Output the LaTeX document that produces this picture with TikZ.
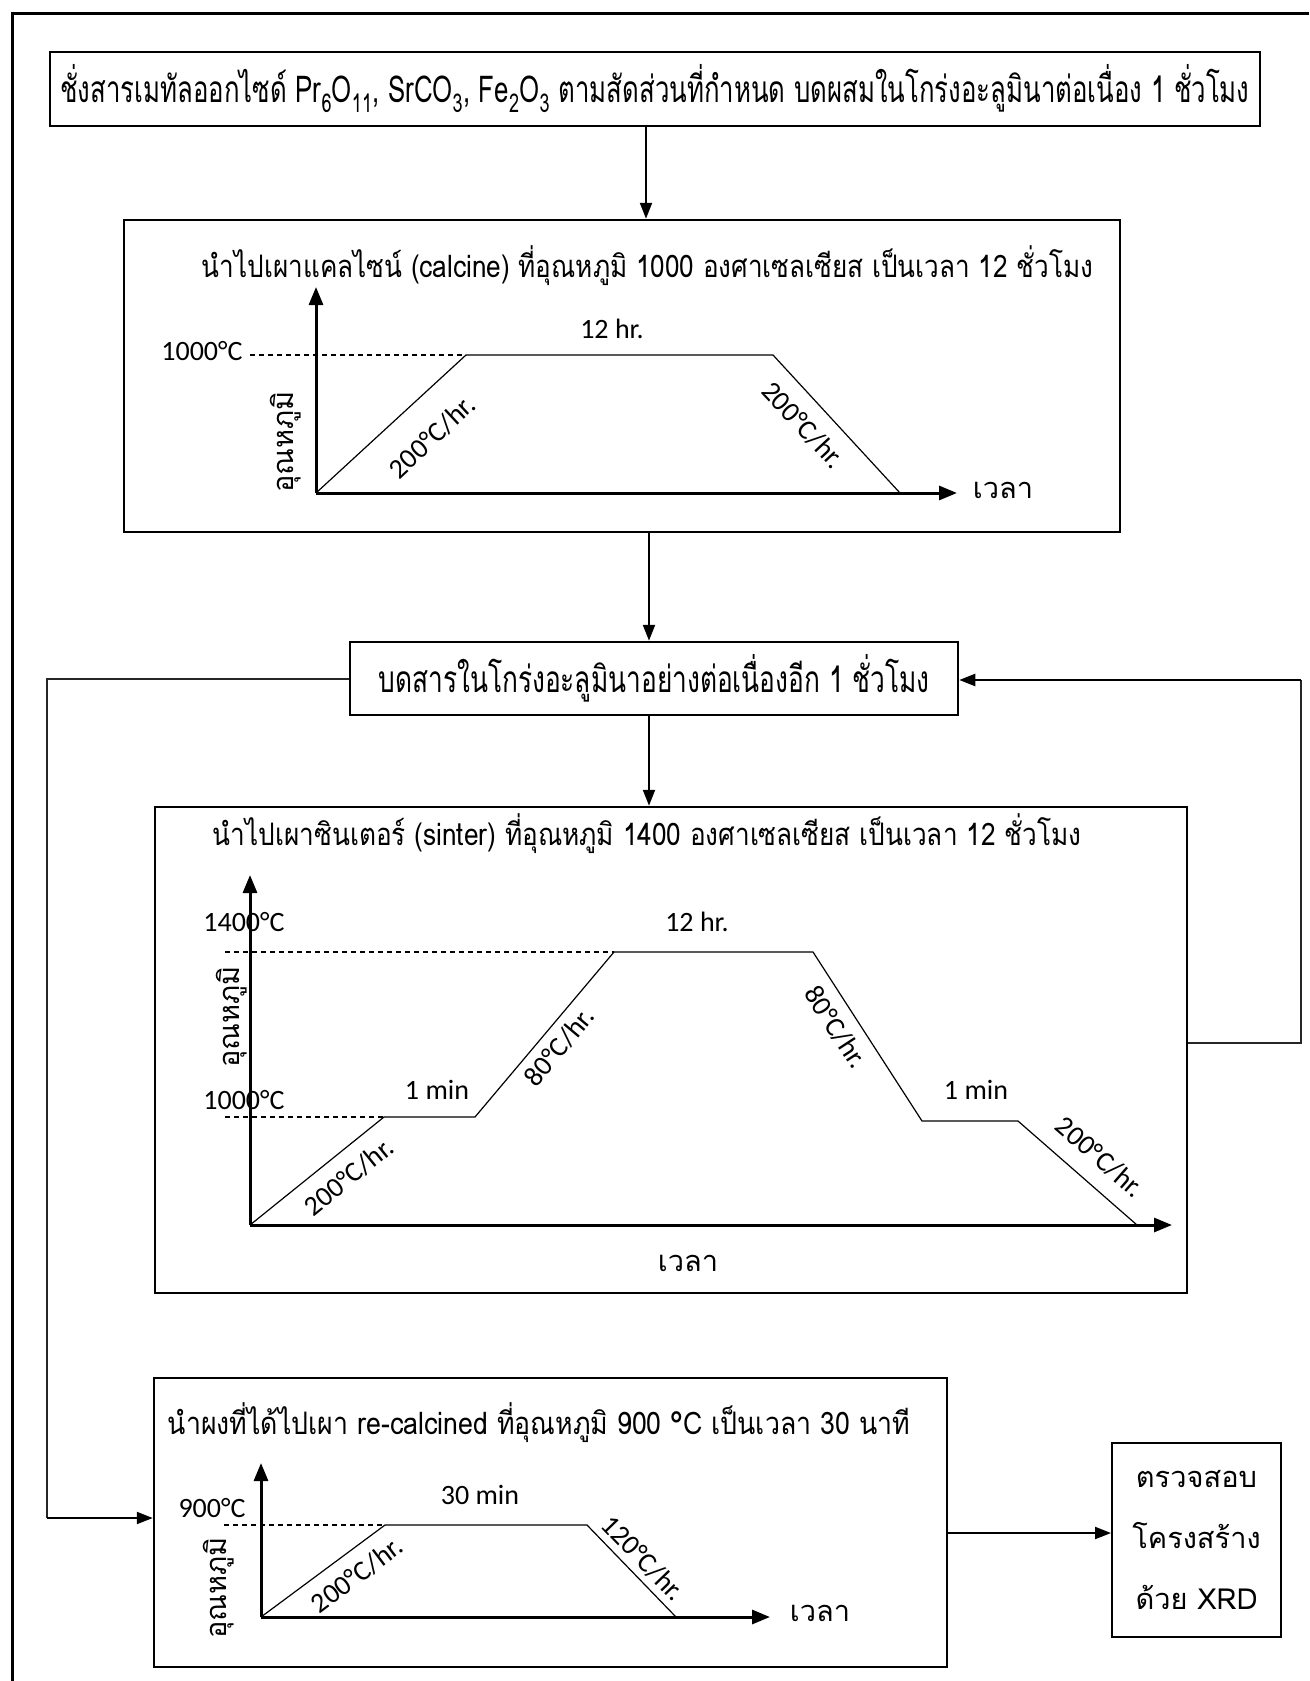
\documentclass[tikz,border=0pt]{standalone}
\usepackage{fontspec}
\usepackage{graphicx}
\newfontfamily\thai[Script=Thai]{Loma}
\newfontfamily\lab{Carlito}
\usetikzlibrary{arrows.meta}
\tikzset{
  box/.style={draw, line width=2.5, inner sep=0, align=center},
  flow/.style={line width=2.2, -{Triangle[length=16, width=12]}},
  thinline/.style={line width=1.3, black!85},
  axis/.style={line width=3, -{Triangle[length=18, width=14]}},
  curve/.style={line width=1.2, line join=miter},
  guide/.style={line width=1.2, dash pattern=on 5 off 4},
  lbl/.style={font=\lab\fontsize{28}{32}\selectfont, inner sep=0},
  thlbl/.style={font=\thai\fontsize{29}{34}\selectfont, inner sep=0},
}
\newcommand{\fitw}[2]{\resizebox{#1pt}{\height}{#2}}
\begin{document}
\begin{tikzpicture}[x=1pt, y=-1pt]
\useasboundingbox (0,0) rectangle (1309,1681);
% outer frame (only top and left visible)
\draw[line width=3] (12,1681) -- (12,13) -- (1309,13);

% boxes
\node[box, minimum width=1210, minimum height=74] (b1) at (655,89)
  {\fitw{1189}{\thai\fontsize{37}{40}\selectfont ชั่งสารเมทัลออกไซด์ Pr\textsubscript{6}O\textsubscript{11}, SrCO\textsubscript{3}, Fe\textsubscript{2}O\textsubscript{3} ตามสัดส่วนที่กำหนด บดผสมในโกร่งอะลูมินาต่อเนื่อง 1 ชั่วโมง}};
\node[box, minimum width=996, minimum height=312] (b2) at (622,376) {};
\node[box, minimum width=608, minimum height=73] (b3) at (654,678.5)
  {\fitw{551}{\thai\fontsize{37}{40}\selectfont บดสารในโกร่งอะลูมินาอย่างต่อเนื่องอีก 1 ชั่วโมง}};
\node[box, minimum width=1032, minimum height=486] (b4) at (671,1050) {};
\node[box, minimum width=793, minimum height=289] (b5) at (550.5,1522.5) {};
\node[box, line width=2, minimum width=169, minimum height=194,
      font=\thai\fontsize{29}{61}\selectfont] (b6) at (1196.5,1540)
  {ตรวจสอบ\\โครงสร้าง\\ด้วย XRD};

% titles
\node[thlbl] (t2) at (647.5,266) {\fitw{891}{\thai\fontsize{31}{34}\selectfont นำไปเผาแคลไซน์ (calcine) ที่อุณหภูมิ 1000 องศาเซลเซียส เป็นเวลา 12 ชั่วโมง}};
\node[thlbl] (t4) at (647,834) {\fitw{868}{\thai\fontsize{31}{34}\selectfont นำไปเผาซินเตอร์ (sinter) ที่อุณหภูมิ 1400 องศาเซลเซียส เป็นเวลา 12 ชั่วโมง}};
\node[thlbl] (t5) at (539,1423) {\fitw{742}{\thai\fontsize{31}{34}\selectfont นำผงที่ได้ไปเผา re-calcined ที่อุณหภูมิ 900 °C เป็นเวลา 30 นาที}};

% flow connectors
\coordinate (c1) at (646,0);
\coordinate (c2) at (649,0);
\draw[flow] (b1.south -| c1) -- (b2.north -| c1);
\draw[flow] (b2.south -| c2) -- (b3.north -| c2);
\draw[flow] (b3.south -| c2) -- (b4.north -| c2);

% left loop: b3 -> b5
\coordinate (l1) at (47,679);
\coordinate (l2) at (47,1518);
\draw[thinline] (b3.west |- l1) -- (l1) -- (l2);
\draw[flow] (l2) -- (b5.west |- l2);

% right loop: b4 -> b3
\coordinate (r1) at (1301,1043);
\coordinate (r2) at (1301,680);
\draw[thinline] (b4.east |- r1) -- (r1) -- (r2);
\draw[flow] (r2) -- (b3.east |- r2);

% b5 -> b6
\coordinate (m5) at (0,1533);
\draw[flow] (b5.east |- m5) -- (b6.west |- m5);

% ---------- chart 1 (calcine) ----------
\coordinate (o1) at (316,493);
\coordinate (y1) at (316,287);
\coordinate (x1) at (957,493);
\draw[guide] (250,355) -- (466,355);
\draw[curve] (o1) -- (466,355) -- (773,355) -- (900,493);
\draw[axis] (o1) -- (y1);
\draw[axis] (o1) -- (x1);
\node[lbl] (a1) at (202,351) {1000°C};
\node[lbl] (a2) at (612,329) {12 hr.};
\node[lbl, rotate=43] (a3) at (432,437) {200°C/hr.};
\node[lbl, rotate=-47] (a4) at (803,425) {200°C/hr.};
\node[thlbl, rotate=90] (a5) at (286,442) {อุณหภูมิ};
\node[thlbl] (a6) at (1003,490) {เวลา};

% ---------- chart 2 (sinter) ----------
\coordinate (o2) at (250,1225);
\coordinate (y2) at (250,875);
\coordinate (x2) at (1172,1225);
\draw[guide] (225,952) -- (614,952);
\draw[guide] (225,1117) -- (384,1117);
\draw[curve] (o2) -- (384,1117) -- (475,1117) -- (614,952) -- (813,952) -- (922,1121) -- (1018,1121) -- (1137,1225);
\draw[axis] (o2) -- (y2);
\draw[axis] (o2) -- (x2);
\node[lbl] (s1) at (244,922) {1400°C};
\node[lbl] (s2) at (244,1100) {1000°C};
\node[lbl] (s3) at (697,922) {12 hr.};
\node[lbl] (s4) at (437,1090) {1 min};
\node[lbl] (s5) at (976,1090) {1 min};
\node[lbl, rotate=39] (s6) at (349,1177) {200°C/hr.};
\node[lbl, rotate=50] (s7) at (559,1047) {80°C/hr.};
\node[lbl, rotate=-57] (s8) at (836,1027) {80°C/hr.};
\node[lbl, rotate=-41] (s9) at (1100,1157) {200°C/hr.};
\node[thlbl, rotate=90] (s10) at (232,1017) {อุณหภูมิ};
\node[thlbl] (s11) at (688,1263) {เวลา};

% ---------- chart 3 (re-calcine) ----------
\coordinate (o3) at (261,1617);
\coordinate (y3) at (261,1463);
\coordinate (x3) at (770,1617);
\draw[guide] (224,1525) -- (385,1525);
\draw[curve] (o3) -- (385,1525) -- (587,1525) -- (676,1617);
\draw[axis] (o3) -- (y3);
\draw[axis] (o3) -- (x3);
\node[lbl] (r01) at (212,1508) {900°C};
\node[lbl] (r02) at (480,1495) {30 min};
\node[lbl, rotate=37] (r03) at (357,1575) {200°C/hr.};
\node[lbl, rotate=-46] (r04) at (643,1558) {120°C/hr.};
\node[thlbl, rotate=90] (r05) at (219,1588) {อุณหภูมิ};
\node[thlbl] (r06) at (820,1613) {เวลา};
\end{tikzpicture}
\end{document}
